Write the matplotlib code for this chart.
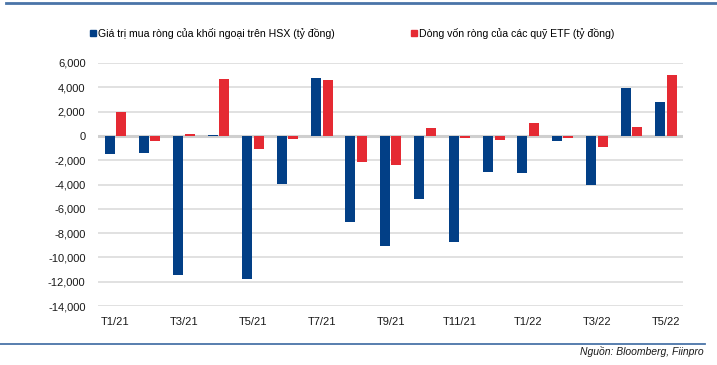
import matplotlib.pyplot as plt
import matplotlib.patches as mpatches
import numpy as np

plt.rcParams['font.family'] = ['Liberation Sans', 'DejaVu Sans']

thang = ['T1/21', 'T2/21', 'T3/21', 'T4/21', 'T5/21', 'T6/21', 'T7/21', 'T8/21', 'T9/21',
         'T10/21', 'T11/21', 'T12/21', 'T1/22', 'T2/22', 'T3/22', 'T4/22', 'T5/22']
khoi_ngoai_hsx = [-1480, -1400, -11440, 60, -11760, -3960, 4800, -7050, -9020,
                  -5230, -8720, -2960, -3040, -410, -4030, 3950, 2800]
dong_von_etf = [1980, -410, 190, 4700, -1060, -250, 4640, -2140, -2380,
                680, -150, -330, 1070, -160, -900, 750, 5010]

xanh = '#023f86'
do = '#e52a33'

fig = plt.figure(figsize=(7.17, 3.65), dpi=100)
ax = fig.add_axes([0.1367, 0.1616, 0.8159, 0.6658])

x = np.arange(len(thang))
w = 0.29
ax.bar(x - 0.165, khoi_ngoai_hsx, width=w, color=xanh, zorder=3)
ax.bar(x + 0.17, dong_von_etf, width=w, color=do, zorder=3)

ax.set_xlim(-0.5, len(thang) - 0.5)
ax.set_ylim(-14000, 6000)
ax.set_yticks(np.arange(-14000, 6001, 2000))
ax.yaxis.set_major_formatter(plt.FuncFormatter(lambda v, p: f'{int(v):,}'))
ax.set_xticks(x[::2])
ax.set_xticklabels(thang[::2])
ax.tick_params(length=0, labelsize=8, colors='#1a1a1a')
ax.tick_params(axis='y', pad=9)
ax.tick_params(axis='x', pad=8)
for s in ax.spines.values():
    s.set_visible(False)
ax.grid(axis='y', color='#dcdcdc', linewidth=1.2, zorder=0)
ax.axhline(0, color='#cfcfcf', linewidth=2.2, zorder=2)

# chú thích
handles = [mpatches.Patch(color=xanh, label='Giá trị mua ròng của khối ngoại trên HSX (tỷ đồng)'),
           mpatches.Patch(color=do, label='Dòng vốn ròng của các quỹ ETF (tỷ đồng)')]
fig.legend(handles=handles, loc='center left', bbox_to_anchor=(0.125, 0.909), ncol=2,
           frameon=False, fontsize=7.6, handlelength=0.6, handleheight=0.6,
           handletextpad=0.2, columnspacing=7.2, borderpad=0, borderaxespad=0)

# đường kẻ trên và dưới
fig.add_artist(plt.Line2D([0.008, 1.0], [0.991, 0.991], color='#4a74a8', linewidth=2))
fig.add_artist(plt.Line2D([0.0, 0.983], [0.0575, 0.0575], color='#4a74a8', linewidth=1.3))
fig.text(0.982, 0.038, 'Nguồn: Bloomberg, Fiinpro', ha='right', va='center',
         fontsize=7.5, style='italic', color='#1a1a1a')

fig.savefig('out.png', dpi=100)
